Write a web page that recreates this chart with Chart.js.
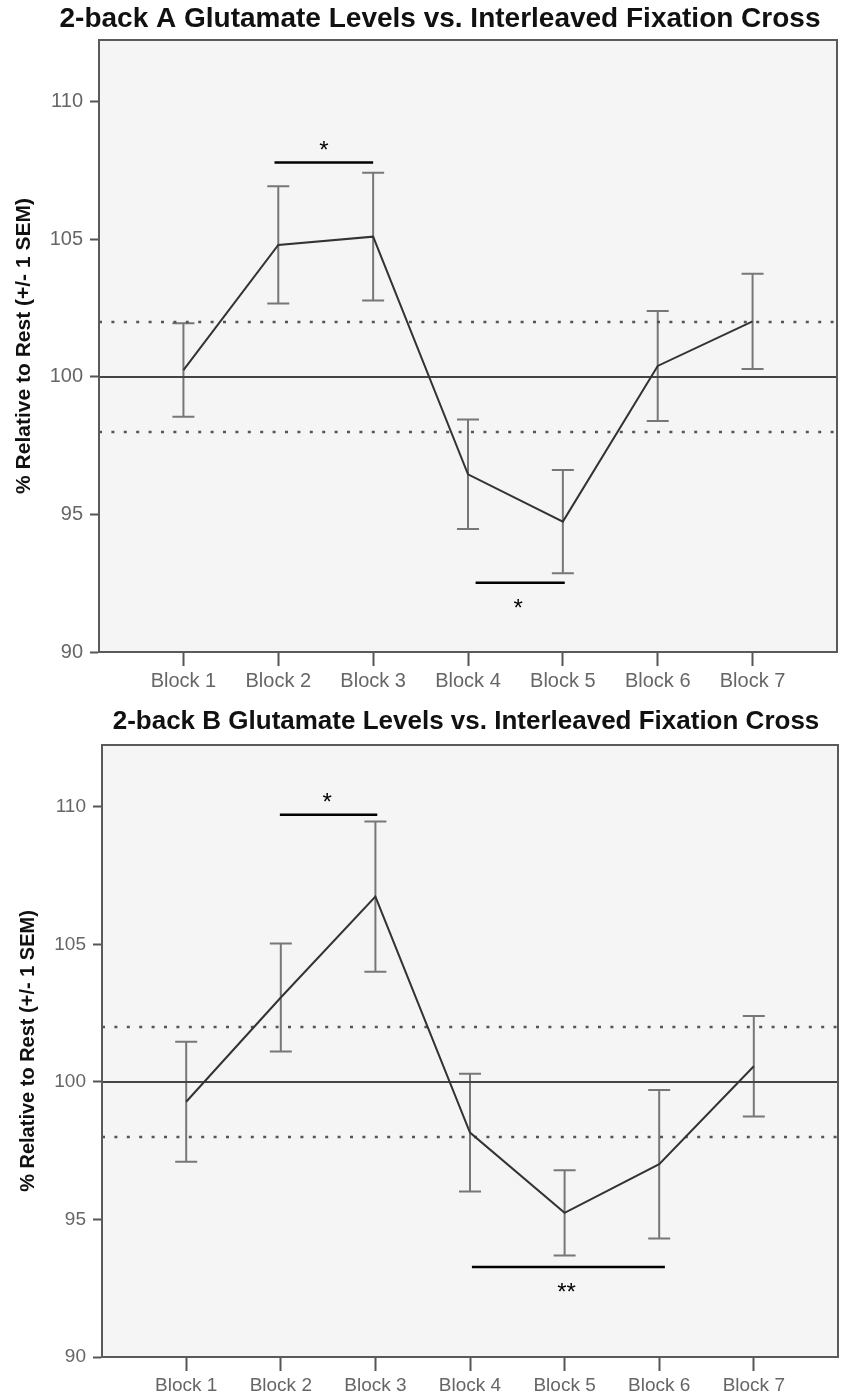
<!DOCTYPE html>
<html><head><meta charset="utf-8">
<script src="https://cdn.jsdelivr.net/npm/chart.js@4.4.1/dist/chart.umd.min.js"></script>
<style>
html,body{margin:0;padding:0;background:#fff;overflow:hidden;width:843px;height:1399px;}
canvas{position:absolute;left:0;display:block;}
</style></head><body>
<canvas id="c1" width="880" height="700" style="top:0px"></canvas>
<canvas id="c2" width="932" height="699" style="top:700px"></canvas>
<script>
// ---------- data ----------
const categories = ['Block 1','Block 2','Block 3','Block 4','Block 5','Block 6','Block 7'];
const yTickValues = [90, 95, 100, 105, 110];
const yAxisTitle = '% Relative to Rest (+/- 1 SEM)';
const titleA = '2-back A Glutamate Levels vs. Interleaved Fixation Cross';
const titleB = '2-back B Glutamate Levels vs. Interleaved Fixation Cross';

const meanA = [100.25, 104.80, 105.10, 96.46, 94.74, 100.40, 102.02];
const semA  = [1.70, 2.13, 2.32, 1.99, 1.88, 2.00, 1.73];
const meanB = [99.28, 103.07, 106.74, 98.16, 95.24, 97.01, 100.57];
const semB  = [2.18, 1.96, 2.73, 2.14, 1.55, 2.70, 1.83];

const restLevel = 100;
const bandLevels = [98, 102];

// significance markers (x in block units, y in %)
const sigFromA = [1.96, 4.08];
const sigToA   = [3.00, 5.02];
const sigYA    = [107.8, 92.52];
const sigTextA = ['*', '*'];
const sigTextXA = [2.48, 4.53];
const sigTextYA = [108.46, 91.83];

const sigFromB = [1.99, 4.02];
const sigToB   = [3.02, 6.06];
const sigYB    = [109.71, 93.27];
const sigTextB = ['*', '**'];
const sigTextXB = [2.49, 5.02];
const sigTextYB = [110.41, 92.59];

const X_MIN = 0.11, X_MAX = 7.89, Y_MIN = 90, Y_MAX = 112.25;

// ---------- drawing ----------
const FONT = "'Liberation Sans', Arial, sans-serif";

const framePlugin = {
  id: 'frame',
  beforeDraw(chart) {
    const {ctx, chartArea: a} = chart;
    ctx.save();
    ctx.fillStyle = '#fff';
    ctx.fillRect(0, 0, chart.width, chart.height);
    ctx.fillStyle = '#f5f5f5';
    ctx.fillRect(a.left, a.top, a.right - a.left, a.bottom - a.top);
    ctx.restore();
  },
  afterDraw(chart) {
    const {ctx, chartArea: a} = chart;
    ctx.save();
    ctx.strokeStyle = '#5a5a5a';
    ctx.lineWidth = 2;
    ctx.strokeRect(a.left, a.top, a.right - a.left, a.bottom - a.top);
    ctx.restore();
  }
};

const errorBarPlugin = {
  id: 'errbars',
  beforeDatasetsDraw(chart, args, opts) {
    const {ctx, scales: {x, y}} = chart;
    ctx.save();
    ctx.strokeStyle = '#777';
    ctx.lineWidth = 2;
    opts.means.forEach((m, i) => {
      const px = x.getPixelForValue(i + 1);
      const yt = y.getPixelForValue(m + opts.sems[i]);
      const yb = y.getPixelForValue(m - opts.sems[i]);
      ctx.beginPath();
      ctx.moveTo(px, yt); ctx.lineTo(px, yb);
      ctx.moveTo(px - 11, yt); ctx.lineTo(px + 11, yt);
      ctx.moveTo(px - 11, yb); ctx.lineTo(px + 11, yb);
      ctx.stroke();
    });
    ctx.restore();
  }
};

const starPlugin = {
  id: 'stars',
  afterDatasetsDraw(chart, args, opts) {
    const {ctx, scales: {x, y}} = chart;
    ctx.save();
    ctx.fillStyle = '#000';
    ctx.font = '24px ' + FONT;
    ctx.textAlign = 'center';
    ctx.textBaseline = 'alphabetic';
    opts.texts.forEach((t, i) => {
      ctx.fillText(t, x.getPixelForValue(opts.xs[i]), y.getPixelForValue(opts.ys[i]) + 0.58 * 24);
    });
    ctx.restore();
  }
};

function hLine(level, extra) {
  return Object.assign({
    data: [{x: X_MIN, y: level}, {x: X_MAX, y: level}],
    pointRadius: 0, borderColor: '#444', borderWidth: 2, fill: false, tension: 0
  }, extra);
}

function makeChart(id, cfg) {
  const datasets = [];
  datasets.push({
    data: cfg.means.map((m, i) => ({x: i + 1, y: m})),
    borderColor: '#333', borderWidth: 2, pointRadius: 0, tension: 0, fill: false, order: 0
  });
  cfg.sigFrom.forEach((f, i) => {
    datasets.push({
      data: [{x: f, y: cfg.sigY[i]}, {x: cfg.sigTo[i], y: cfg.sigY[i]}],
      borderColor: '#000', borderWidth: 2.5, pointRadius: 0, fill: false, order: 1
    });
  });
  datasets.push(hLine(restLevel, {order: 5}));
  bandLevels.forEach(b => datasets.push(hLine(b, {borderDash: [3, 9.4], borderWidth: 2.5, borderColor: '#555', order: 6})));

  const yTitleLH = cfg.yTitleSize * 1.2;
  const canvas = document.getElementById(id);
  const rightGap = canvas.width - cfg.plotRight;
  return new Chart(canvas, {
    type: 'line',
    data: {datasets},
    options: {
      responsive: false,
      animation: false,
      devicePixelRatio: 1,
      layout: {padding: 0},
      plugins: {
        legend: {display: false},
        tooltip: {enabled: false},
        title: {
          display: true, text: cfg.title, color: '#111',
          font: {family: FONT, size: cfg.titleSize, weight: 'bold', lineHeight: 1.2},
          padding: cfg.titlePad
        },
        errbars: {means: cfg.means, sems: cfg.sems},
        stars: {texts: cfg.sigText, xs: cfg.sigTextX, ys: cfg.sigTextY}
      },
      scales: {
        x: {
          type: 'linear', min: X_MIN, max: X_MAX,
          afterBuildTicks: s => { s.ticks = categories.map((c, i) => ({value: i + 1})); },
          afterFit: s => { s.height = cfg.xAxisH; },
          ticks: {
            color: '#666', font: {family: FONT, size: cfg.tickSize}, padding: 3,
            autoSkip: false, maxRotation: 0,
            callback: v => categories[Math.round(v) - 1] || ''
          },
          grid: {display: true, drawOnChartArea: false, drawTicks: true, tickLength: 14, tickColor: '#555', tickWidth: 2},
          border: {display: true, color: '#5a5a5a', width: 2}
        },
        y: {
          type: 'linear', min: Y_MIN, max: Y_MAX,
          afterBuildTicks: s => { s.ticks = yTickValues.map(v => ({value: v})); },
          afterFit: s => { s.width = cfg.plotLeft; },
          ticks: {color: '#666', font: {family: FONT, size: cfg.tickSize}, padding: 7},
          grid: {display: true, drawOnChartArea: false, drawTicks: true, tickLength: 9, tickColor: '#555', tickWidth: 2},
          border: {display: true, color: '#5a5a5a', width: 2},
          title: {
            display: true, text: yAxisTitle, color: '#111',
            font: {family: FONT, size: cfg.yTitleSize, weight: 'bold', lineHeight: 1.2},
            padding: {top: cfg.yTitleX - yTitleLH / 2, bottom: 0}
          }
        },
        yR: {
          type: 'linear', position: 'right', display: true,
          afterFit: s => { s.width = rightGap; },
          ticks: {display: false},
          grid: {display: false, drawTicks: false},
          border: {display: false}
        }
      }
    },
    plugins: [framePlugin, errorBarPlugin, starPlugin]
  });
}

makeChart('c1', {
  title: titleA, titleSize: 28, titlePad: {top: 2, bottom: 4.4},
  means: meanA, sems: semA,
  sigFrom: sigFromA, sigTo: sigToA, sigY: sigYA,
  sigText: sigTextA, sigTextX: sigTextXA, sigTextY: sigTextYA,
  plotLeft: 99, plotRight: 837, xAxisH: 48,
  tickSize: 20, yTitleSize: 21, yTitleX: 24
});

makeChart('c2', {
  title: titleB, titleSize: 26, titlePad: {top: 6, bottom: 7.8},
  means: meanB, sems: semB,
  sigFrom: sigFromB, sigTo: sigToB, sigY: sigYB,
  sigText: sigTextB, sigTextX: sigTextXB, sigTextY: sigTextYB,
  plotLeft: 102, plotRight: 838, xAxisH: 42,
  tickSize: 19, yTitleSize: 20, yTitleX: 28
});
</script>
</body></html>
